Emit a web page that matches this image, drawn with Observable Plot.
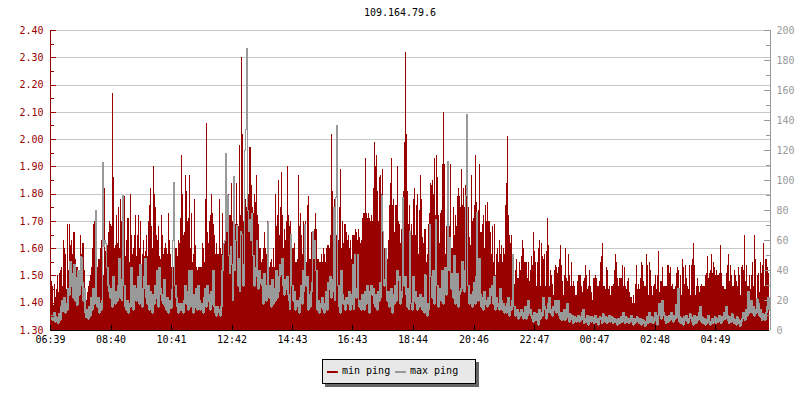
<!DOCTYPE html>
<html>
<head>
<meta charset="utf-8">
<script src="https://cdn.jsdelivr.net/npm/d3@7"></script>
<script src="https://cdn.jsdelivr.net/npm/@observablehq/plot@0.6"></script>
<style>
  html, body { margin: 0; padding: 0; background: #fff; width: 800px; height: 400px; overflow: hidden; }
  body { position: relative; font-family: "DejaVu Sans Mono", monospace; font-size: 10px; }
  #title { position: absolute; left: 0; top: 7px; width: 800px; text-align: center; color: #000; line-height: 12px; }
  #chart { position: absolute; left: 0; top: 0; }
  #legend { position: absolute; left: 322px; top: 359px; width: 152px; height: 23px; background: #e8e8e8; border: 1px solid #000; box-shadow: 3px 3px 0 #666; }
  #legend span { position: absolute; top: 5px; line-height: 12px; white-space: pre; color: #000; }
  #legend i { position: absolute; top: 11px; width: 11px; height: 2px; }
</style>
</head>
<body>
<div id="chart"></div>
<div id="title">109.164.79.6</div>
<div id="legend">
  <i style="left:4px;background:#990000"></i><span style="left:19px">min ping</span>
  <i style="left:72px;background:#999999"></i><span style="left:87px">max ping</span>
</div>
<script>
const timeLabels = ["06:39","08:40","10:41","12:42","14:43","16:43","18:44","20:46","22:47","00:47","02:48","04:49"];
const timeMinutes = [0,121,242,363,484,604,725,847,968,1088,1209,1330];
const leftMajor = [1.3,1.4,1.5,1.6,1.7,1.8,1.9,2.0,2.1,2.2,2.3,2.4];
const leftMinor = [1.35,1.45,1.55,1.65,1.75,1.85,1.95,2.05,2.15,2.25,2.35];
const rightMajor = [0,20,40,60,80,100,120,140,160,180,200];
const rightMinor = [10,30,50,70,90,110,130,150,170,190];

// min ping, hundredths of a unit, one value per 2 minutes (left axis)
const minPingCenti = [
141,148,146,139,147,142,145,150,144,151,152,153,146,163,160,158,145,169,152,169,
161,163,158,166,166,156,153,153,150,150,165,158,162,162,152,143,141,144,146,148,
150,153,160,169,170,171,155,153,156,156,160,163,164,150,182,159,155,161,166,170,
169,168,217,186,160,161,172,162,175,160,178,170,176,154,179,157,163,171,171,155,
180,165,158,160,165,172,157,165,172,160,170,154,158,163,157,159,165,157,170,176,
182,168,160,190,180,175,165,163,168,157,156,172,165,158,160,162,160,158,173,163,
158,153,152,153,155,160,160,157,163,162,171,194,180,165,166,187,181,170,171,187,
160,173,155,158,178,161,153,152,153,153,153,153,162,160,155,178,206,166,162,170,
172,180,173,169,165,158,162,158,158,178,160,158,173,160,162,165,172,176,180,172,
172,184,170,165,172,169,184,169,168,198,172,230,202,170,190,178,175,187,180,197,
197,183,175,173,180,177,187,172,169,160,160,155,156,160,166,160,158,170,155,153,
155,156,153,160,153,180,168,172,185,165,175,188,172,160,167,163,170,190,172,168,
170,163,160,160,162,155,155,156,187,168,173,165,158,170,167,170,155,176,179,156,
156,166,157,166,167,173,167,156,156,155,155,158,155,160,158,155,160,161,161,160,
165,202,181,170,178,175,165,161,163,175,189,160,170,162,169,169,166,163,165,160,
163,156,165,165,165,167,166,163,167,164,162,163,171,173,173,193,173,171,173,171,
170,172,170,182,199,190,194,181,170,186,187,180,189,161,160,156,160,156,163,176,
184,193,176,178,166,176,176,190,170,169,162,167,174,181,199,232,202,181,169,176,
162,169,165,178,182,165,176,180,158,174,187,178,164,162,167,167,155,158,169,173,
184,183,185,180,193,172,194,186,172,162,173,174,191,210,191,158,168,168,176,168,
191,160,160,175,165,172,168,179,182,179,175,189,176,182,175,183,191,177,175,164,
161,187,170,171,176,194,177,162,174,191,166,166,169,172,160,176,170,177,170,170,
166,158,168,155,169,150,158,160,155,163,158,161,155,160,158,176,184,201,172,165,
162,165,153,156,147,152,156,149,149,155,152,157,163,160,155,155,155,149,155,148,
152,157,154,166,159,155,146,155,160,163,146,162,157,156,158,146,159,171,161,146,
152,150,147,143,152,154,153,151,153,156,161,154,148,143,150,160,149,148,158,150,
146,155,146,148,146,143,143,148,150,150,150,146,144,148,149,154,150,145,146,152,
146,144,141,149,149,150,149,146,146,148,155,157,162,146,146,145,153,152,145,146,
143,146,146,147,152,158,155,149,146,149,149,149,154,146,153,146,145,148,149,144,
142,142,140,143,140,147,154,145,147,145,149,155,154,148,146,146,158,154,143,155,
152,146,143,146,147,150,145,150,159,144,148,148,153,146,146,146,146,154,154,151,
153,146,147,145,145,146,151,153,152,145,150,143,156,153,147,154,149,146,145,154,
143,154,156,162,154,143,146,149,146,144,146,147,146,146,146,150,151,157,149,151,
152,158,151,155,153,150,152,150,150,151,161,151,146,146,145,145,151,154,158,148,
154,150,146,146,152,150,148,146,153,150,143,153,154,152,165,148,154,146,146,150,
145,150,155,146,165,156,141,150,151,144,155,151,154,162,146,156,156,153,151,152
];

// max ping, ms, one value per 2 minutes (right axis)
const maxPing = [
8,10,7,12,6,9,8,5,11,7,16,20,13,22,12,18,14,28,24,46,
30,38,22,44,20,35,17,40,24,30,49,32,20,28,12,9,14,8,16,10,
22,14,28,18,24,80,16,22,12,18,14,20,112,56,60,58,42,30,26,22,
28,16,36,24,18,26,20,30,48,22,34,20,90,30,16,14,20,12,18,16,
42,24,14,30,26,20,28,36,18,44,26,16,28,36,48,22,18,30,14,26,
20,12,24,18,30,22,40,16,42,28,24,20,18,34,16,14,22,12,20,16,
15,27,60,99,30,22,16,12,18,14,14,18,12,20,30,18,26,14,40,16,
40,20,12,24,16,28,14,30,20,14,16,18,12,22,28,16,30,20,24,14,
26,18,40,16,12,10,16,14,12,10,16,40,50,58,60,118,66,90,50,38,
56,44,20,103,40,60,70,30,48,26,66,64,30,44,120,134,188,80,66,74,
60,78,50,30,42,36,60,28,40,32,34,30,18,38,26,20,30,72,22,30,
16,34,18,28,20,40,22,26,36,44,38,48,30,24,34,28,36,24,20,14,
64,30,20,26,14,18,20,16,12,22,30,18,40,26,71,30,36,14,24,16,
26,32,66,48,60,40,14,20,12,18,16,22,14,12,18,26,14,32,28,36,
22,26,34,82,20,89,137,30,16,12,40,24,18,20,14,22,20,18,26,14,
24,18,44,14,51,22,28,51,16,20,14,24,20,14,26,18,30,22,12,26,
30,24,28,18,16,24,14,26,20,32,22,90,66,30,34,55,20,26,16,22,
28,12,24,18,30,20,40,34,36,18,26,22,89,30,36,24,16,28,14,66,
18,14,36,20,26,18,14,22,16,24,18,14,22,12,37,16,10,18,14,71,
36,22,40,18,20,74,30,16,24,28,20,40,18,26,42,24,30,113,40,62,
28,38,22,50,18,30,38,16,24,26,28,46,30,26,40,90,144,30,18,24,
20,16,26,32,18,36,79,20,48,24,16,22,14,26,18,20,16,22,18,28,
24,30,18,36,14,22,18,16,14,28,20,14,18,12,16,12,18,22,10,16,
14,20,51,16,10,12,14,8,12,10,14,10,8,12,16,8,10,20,12,14,
10,8,6,12,9,7,11,4,14,8,12,10,22,16,14,8,12,18,22,12,
14,10,16,14,20,12,15,20,10,8,12,7,9,14,7,13,18,9,6,11,
8,10,5,7,9,6,8,10,6,9,7,12,14,5,8,6,10,4,7,9,
6,9,7,5,10,6,8,4,7,9,8,5,11,7,6,9,5,8,10,6,
7,9,5,8,6,7,4,8,6,5,9,6,12,7,5,9,6,8,5,7,
10,6,4,8,5,7,9,6,5,8,4,6,7,5,3,6,9,5,12,6,
6,9,5,8,12,7,4,10,18,14,8,20,12,10,7,5,9,6,10,7,
12,8,6,10,8,17,9,28,6,9,5,8,4,9,7,10,6,5,8,11,
9,6,4,10,7,5,9,7,12,16,6,9,5,8,4,7,5,10,6,4,
6,8,5,7,9,5,8,6,10,7,5,9,7,12,8,16,10,7,5,9,
6,11,8,5,7,4,9,5,7,3,6,8,12,10,7,14,10,26,12,16,
20,12,16,10,14,12,21,18,10,14,9,7,11,8,7,12,16,22,14,16
];

const RED = "#990000", GRAY = "#999999", GRID = "#c8c8c8";
const yBase = 1.3, yTop = 2.4, xEnd = 1440, rmax = 200;
const bandCap = 50;
const fromRight = ms => yBase + ms * (yTop - yBase) / rmax;
const t = (_, i) => i * 2;
const crisp = { shapeRendering: "crispEdges" };

const plot = Plot.plot({
  width: 800, height: 400,
  marginTop: 30, marginBottom: 70, marginLeft: 50, marginRight: 30,
  style: { background: "transparent", fontFamily: '"DejaVu Sans Mono", monospace', fontSize: "10px", overflow: "visible" },
  x: { domain: [0, xEnd], axis: null },
  y: { domain: [yBase, yTop], axis: null },
  marks: [
    Plot.ruleY(leftMajor.slice(1), { stroke: GRID, strokeWidth: 1, ...crisp }),
    Plot.areaY(minPingCenti, { x: t, y1: yBase, y2: d => d / 100, fill: RED, curve: "step-after", ...crisp }),
    // the dense lower part of the max-ping line reads as a solid band; its peaks stay one pixel wide
    Plot.lineY(maxPing, { x: t, y: d => d <= bandCap ? fromRight(d) : NaN, stroke: GRAY, strokeWidth: 2, curve: "step-after", strokeLinejoin: "miter", ...crisp }),
    Plot.lineY(maxPing, { x: t, y: d => fromRight(d), stroke: GRAY, strokeWidth: 1, curve: "step-after", strokeLinejoin: "miter", ...crisp }),

    // left axis
    Plot.ruleX([0], { stroke: RED, strokeWidth: 1, ...crisp }),
    Plot.ruleY(leftMajor, { x1: 0, x2: 12, stroke: RED, ...crisp }),
    Plot.ruleY(leftMinor, { x1: 0, x2: 8, stroke: RED, ...crisp }),
    Plot.axisY({ anchor: "left", ticks: leftMajor, tickSize: 0, tickPadding: 7, label: null, color: RED, tickFormat: d => d.toFixed(2) }),

    // right axis
    Plot.ruleX([xEnd], { stroke: GRAY, strokeWidth: 1, ...crisp }),
    Plot.ruleY(rightMajor, { y: fromRight, x1: xEnd - 12, x2: xEnd, stroke: GRAY, ...crisp }),
    Plot.ruleY(rightMinor, { y: fromRight, x1: xEnd - 8, x2: xEnd, stroke: GRAY, ...crisp }),
    Plot.axisY({ anchor: "right", ticks: rightMajor.map(fromRight), tickSize: 0, tickPadding: 6, label: null, color: GRAY,
      tickFormat: d => String(Math.round((d - yBase) * rmax / (yTop - yBase))) }),

    // bottom axis
    Plot.ruleY([yBase], { x1: 0, x2: xEnd - 2, stroke: "#000", ...crisp }),
    Plot.ruleX(timeMinutes, { y1: yBase, y2: yBase + 0.018, stroke: "#000", ...crisp }),
    Plot.axisX({ anchor: "bottom", ticks: timeMinutes, tickSize: 0, tickPadding: 5, label: null, color: "#000",
      tickFormat: d => timeLabels[timeMinutes.indexOf(d)] })
  ]
});
document.getElementById("chart").appendChild(plot);
</script>
</body>
</html>
